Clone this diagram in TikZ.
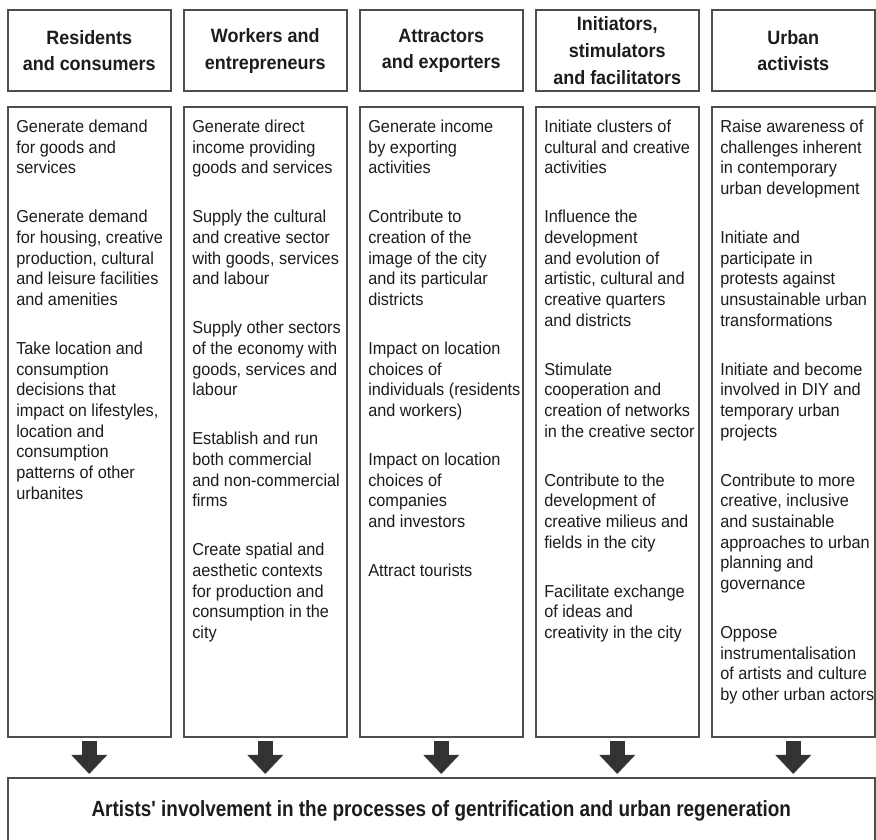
\documentclass[tikz,border=0pt]{standalone}
\usepackage{fontspec}
\usepackage{tikz}
\usetikzlibrary{positioning,arrows.meta}
\setmainfont{Liberation Sans}[FakeStretch=0.94]
\newfontfamily\headfont{Liberation Sans}[FakeStretch=0.93]
\newfontfamily\basefont{Liberation Sans}[FakeStretch=0.86]
\definecolor{framegray}{HTML}{4E4E4E}
\definecolor{arrowgray}{HTML}{333333}
\definecolor{inkblack}{HTML}{1C1C1C}

\begin{document}
\begin{tikzpicture}[
  node distance=10.125pt,
  header/.style={draw=framegray, line width=1.5pt, outer sep=0pt, inner sep=0pt, minimum width=121.875pt, minimum height=61.1pt, align=center, text=inkblack, font=\headfont\bfseries\fontsize{14.5}{20}\selectfont},
  body/.style={draw=framegray, line width=1.5pt, outer sep=0pt, inner sep=0pt, minimum width=121.875pt, minimum height=472.5pt},
  bodytext/.style={anchor=north west, inner sep=0pt, align=left, text=inkblack, font=\fontsize{13}{15.5}\selectfont},
  finalbox/.style={draw=framegray, line width=1.5pt, outer sep=0pt, inner sep=0pt, minimum width=649.875pt, minimum height=49.5pt, text=inkblack, font=\basefont\bfseries\fontsize{16.5}{20}\selectfont},
  bigarrow/.style={arrowgray, line width=11.25pt, shorten <=3pt, shorten >=3pt, -{Triangle[width=27pt, length=14.25pt, line width=0pt]}}
]
\useasboundingbox (0,0) rectangle (657pt,-630pt);

\node[header, anchor=north west] (h1) at (6pt,-7.5pt) {Residents\\and consumers};
\node[header, right=of h1] (h2) {Workers and\\entrepreneurs};
\node[header, right=of h2] (h3) {Attractors\\and exporters};
\node[header, right=of h3] (h4) {Initiators,\\stimulators\\and facilitators};
\node[header, right=of h4] (h5) {Urban\\activists};

\node[body, below=11.6pt of h1] (b1) {};
\node[body, below=11.6pt of h2] (b2) {};
\node[body, below=11.6pt of h3] (b3) {};
\node[body, below=11.6pt of h4] (b4) {};
\node[body, below=11.6pt of h5] (b5) {};

\node[bodytext] (t1) at ([xshift=6pt, yshift=-9.5pt]b1.north west) {Generate demand\\for goods and\\services\\[21.25pt]
Generate demand\\for housing, creative\\production, cultural\\and leisure facilities\\and amenities\\[21.25pt]
Take location and\\consumption\\decisions that\\impact on lifestyles,\\location and\\consumption\\patterns of other\\urbanites};
\node[bodytext] (t2) at ([xshift=6pt, yshift=-9.5pt]b2.north west) {Generate direct\\income providing\\goods and services\\[21.25pt]
Supply the cultural\\and creative sector\\with goods, services\\and labour\\[21.25pt]
Supply other sectors\\of the economy with\\goods, services and\\labour\\[21.25pt]
Establish and run\\both commercial\\and non-commercial\\firms\\[21.25pt]
Create spatial and\\aesthetic contexts\\for production and\\consumption in the\\city};
\node[bodytext] (t3) at ([xshift=6pt, yshift=-9.5pt]b3.north west) {Generate income\\by exporting\\activities\\[21.25pt]
Contribute to\\creation of the\\image of the city\\and its particular\\districts\\[21.25pt]
Impact on location\\choices of\\individuals (residents\\and workers)\\[21.25pt]
Impact on location\\choices of\\companies\\and investors\\[21.25pt]
Attract tourists};
\node[bodytext] (t4) at ([xshift=6pt, yshift=-9.5pt]b4.north west) {Initiate clusters of\\cultural and creative\\activities\\[21.25pt]
Influence the\\development\\and evolution of\\artistic, cultural and\\creative quarters\\and districts\\[21.25pt]
Stimulate\\cooperation and\\creation of networks\\in the creative sector\\[21.25pt]
Contribute to the\\development of\\creative milieus and\\fields in the city\\[21.25pt]
Facilitate exchange\\of ideas and\\creativity in the city};
\node[bodytext] (t5) at ([xshift=6pt, yshift=-9.5pt]b5.north west) {Raise awareness of\\challenges inherent\\in contemporary\\urban development\\[21.25pt]
Initiate and\\participate in\\protests against\\unsustainable urban\\transformations\\[21.25pt]
Initiate and become\\involved in DIY and\\temporary urban\\projects\\[21.25pt]
Contribute to more\\creative, inclusive\\and sustainable\\approaches to urban\\planning and\\governance\\[21.25pt]
Oppose\\instrumentalisation\\of artists and culture\\by other urban actors};

\node[finalbox, below=30.75pt of b3] (impact) {Artists' involvement in the processes of gentrification and urban regeneration};

\foreach \i in {1,...,5}
  \draw[bigarrow] (b\i.south) -- (b\i.south |- impact.north);
\end{tikzpicture}
\end{document}
